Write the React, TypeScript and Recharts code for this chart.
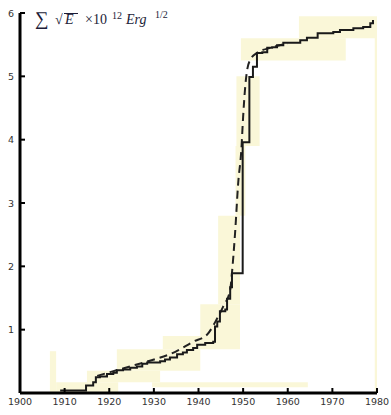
import React from 'react';
import { LineChart, Line, XAxis, YAxis, ReferenceArea } from 'recharts';

const yearTicks = [1900, 1910, 1920, 1930, 1940, 1950, 1960, 1970, 1980];
const valueTicks = [1, 2, 3, 4, 5, 6];

const stepYears = [1909.0, 1914.8, 1916.4, 1917.0, 1917.9, 1919.5, 1920.9, 1921.7, 1923.1, 1924.7, 1926.2, 1927.4, 1928.5, 1931.4, 1932.5, 1933.6, 1935.2, 1936.5, 1937.4, 1938.8, 1939.7, 1941.5, 1943.3, 1943.7, 1944.2, 1944.8, 1946.0, 1946.4, 1947.1, 1947.5, 1949.9, 1951.4, 1952.2, 1953.1, 1954.3, 1955.4, 1956.5, 1957.6, 1959.0, 1962.8, 1964.3, 1966.7, 1970.2, 1971.7, 1974.7, 1976.9, 1978.5, 1979.1];
const stepValues = [0.04, 0.12, 0.17, 0.25, 0.26, 0.3, 0.32, 0.36, 0.37, 0.4, 0.42, 0.46, 0.48, 0.5, 0.53, 0.56, 0.61, 0.64, 0.68, 0.71, 0.76, 0.79, 0.81, 1.05, 1.13, 1.29, 1.32, 1.49, 1.67, 1.89, 3.96, 4.99, 5.15, 5.37, 5.38, 5.45, 5.46, 5.49, 5.53, 5.57, 5.61, 5.68, 5.7, 5.73, 5.76, 5.78, 5.84, 5.89];

const dashYears = [1917.3, 1920.2, 1924.7, 1929.1, 1934.8, 1938.8, 1941.9, 1944.2, 1945.5, 1947.1, 1947.5, 1948.2, 1948.9, 1949.6, 1950.0, 1950.5, 1950.9, 1951.6, 1953.1, 1956.1, 1960.0];
const dashValues = [0.27, 0.33, 0.42, 0.51, 0.65, 0.81, 0.92, 1.18, 1.36, 1.63, 1.9, 2.53, 3.32, 3.84, 4.36, 4.86, 5.1, 5.26, 5.37, 5.45, 5.52];

// pale paper patches of the scanned original (data units)
const patchX1 = [1906.7, 1908.1, 1915.0, 1921.7, 1932.0, 1940.4, 1944.4, 1948.3, 1948.5, 1949.5, 1962.5, 1929.6, 1979.5];
const patchX2 = [1908.1, 1922.0, 1931.4, 1940.4, 1949.3, 1949.3, 1949.3, 1950.5, 1953.7, 1973.0, 1980.0, 1964.5, 1980.0];
const patchY1 = [0.0, 0.0, 0.17, 0.35, 0.69, 0.9, 1.4, 2.8, 3.9, 5.25, 5.6, 0.09, 0.0];
const patchY2 = [0.66, 0.17, 0.35, 0.69, 0.9, 1.4, 2.8, 3.9, 5.0, 5.6, 5.95, 0.17, 5.9];

const stepData = stepYears.map((x, i) => ({ x, y: stepValues[i] }));
const dashData = dashYears.map((x, i) => ({ x, y: dashValues[i] }));
const patches = patchX1.map((x1, i) => ({ x1, x2: patchX2[i], y1: patchY1[i], y2: patchY2[i] }));

const tickFont = { fontFamily: 'DejaVu Sans', fontSize: 9.5, fill: '#333' };

const XTick = (props: any) => {
  const { x, y, payload } = props;
  return (
    <g>
      <line x1={x} x2={x} y1={y} y2={y - 5} stroke="#000" strokeWidth={2} />
      <text x={x} y={y + 12} textAnchor="middle" {...tickFont}>{payload.value}</text>
    </g>
  );
};

const YTick = (props: any) => {
  const { x, y, payload } = props;
  return (
    <g>
      <line x1={x} x2={x + 5} y1={y} y2={y} stroke="#000" strokeWidth={2} />
      <text x={x - 6} y={y + 3.5} textAnchor="end" {...tickFont}>{payload.value}</text>
    </g>
  );
};

export default function App() {
  return (
    <div style={{ position: 'absolute', left: 0, top: 0, width: 391, height: 415, background: '#fff' }}>
      <LineChart width={391} height={415} margin={{ top: 13, right: 14, bottom: 0, left: 0 }}>
        {patches.map((p, i) => (
          <ReferenceArea key={i} x1={p.x1} x2={p.x2} y1={p.y1} y2={p.y2} fill="#faf7d8" fillOpacity={1} stroke="none" ifOverflow="hidden" />
        ))}
        <XAxis
          type="number"
          dataKey="x"
          domain={[1900, 1980]}
          ticks={yearTicks}
          allowDataOverflow
          height={22}
          tickSize={0}
          tickMargin={0}
          tickLine={false}
          axisLine={{ stroke: '#000', strokeWidth: 3 }}
          tick={<XTick />}
          interval={0}
        />
        <YAxis
          type="number"
          dataKey="y"
          domain={[0, 6]}
          ticks={valueTicks}
          allowDataOverflow
          width={20}
          tickSize={0}
          tickMargin={0}
          tickLine={false}
          axisLine={{ stroke: '#000', strokeWidth: 3 }}
          tick={<YTick />}
          interval={0}
        />
        <Line data={dashData} dataKey="y" type="monotone" stroke="#222" strokeWidth={2} strokeDasharray="8 5" dot={false} isAnimationActive={false} />
        <Line data={stepData} dataKey="y" type="stepAfter" stroke="#1a1a1a" strokeWidth={2} dot={false} isAnimationActive={false} />
      </LineChart>
      <svg width={391} height={415} style={{ position: 'absolute', left: 0, top: 0, pointerEvents: 'none' }}>
        <g fill="#1c1c38" fontFamily="Liberation Serif">
          <text x={35} y={25} fontSize={19}>∑</text>
          <text x={55} y={24} fontSize={14}>√</text>
          <line x1={64} x2={78} y1={13.5} y2={13.5} stroke="#1c1c38" strokeWidth={1} />
          <text x={65} y={24} fontSize={14} fontStyle="italic">E</text>
          <text x={85} y={24} fontSize={14}>×10</text>
          <text x={112} y={19} fontSize={10}>12</text>
          <text x={126} y={24} fontSize={14} fontStyle="italic">Erg</text>
          <text x={155} y={18} fontSize={10}>1/2</text>
        </g>
      </svg>
    </div>
  );
}
